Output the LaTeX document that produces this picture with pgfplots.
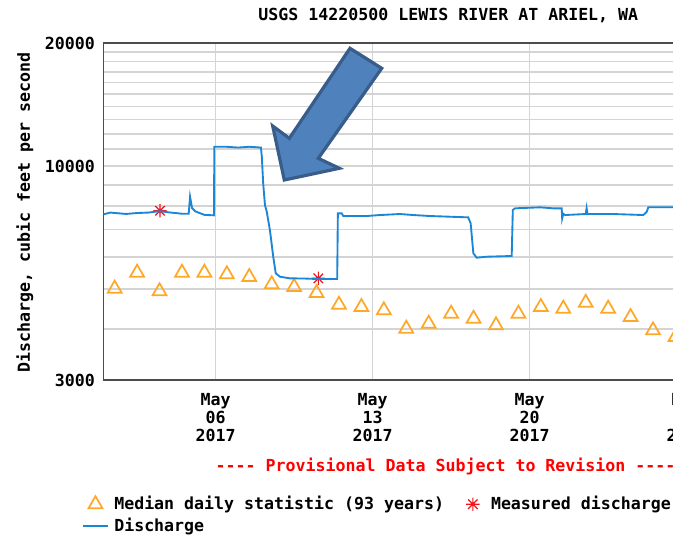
\documentclass[border=0pt]{standalone}
\usepackage{pgfplots}
\pgfplotsset{compat=1.18}
\usepackage{fontspec}
\setmainfont{DejaVu Sans Mono}[Ligatures=TeXOff]
\definecolor{qblue}{RGB}{28,134,214}
\definecolor{medorange}{RGB}{255,168,40}
\definecolor{measred}{RGB}{240,20,30}
\definecolor{gridc}{RGB}{212,212,212}
\definecolor{arrowfill}{RGB}{79,129,189}
\definecolor{arrowdraw}{RGB}{56,93,138}
\pgfdeclareplotmark{star8}{%
  \pgfpathmoveto{\pgfqpoint{0pt}{\pgfplotmarksize}}\pgfpathlineto{\pgfqpoint{0pt}{-\pgfplotmarksize}}%
  \pgfpathmoveto{\pgfqpoint{\pgfplotmarksize}{0pt}}\pgfpathlineto{\pgfqpoint{-\pgfplotmarksize}{0pt}}%
  \pgfpathmoveto{\pgfqpoint{.7071\pgfplotmarksize}{.7071\pgfplotmarksize}}\pgfpathlineto{\pgfqpoint{-.7071\pgfplotmarksize}{-.7071\pgfplotmarksize}}%
  \pgfpathmoveto{\pgfqpoint{.7071\pgfplotmarksize}{-.7071\pgfplotmarksize}}\pgfpathlineto{\pgfqpoint{-.7071\pgfplotmarksize}{.7071\pgfplotmarksize}}%
  \pgfusepathqstroke}
\begin{document}
\begin{tikzpicture}[font=\fontsize{12.45pt}{13.5pt}\selectfont\bfseries]
\useasboundingbox (0,0) rectangle (504.75pt,-404.25pt);
\clip (0,0) rectangle (504.75pt,-404.25pt);
\begin{axis}[
  at={(77.6pt,-285pt)}, anchor=south west,
  scale only axis, width=521.5pt, height=252.75pt,
  xmin=1, xmax=32,
  ymode=log, ymin=3000, ymax=20000,
  clip mode=individual,
  xtick={6,13,20,27},
  xticklabels={{May\\06\\2017},{May\\13\\2017},{May\\20\\2017},{May\\27\\2017}},
  ytick={3000,10000,20000},
  yticklabels={3000,10000,20000},
  minor ytick={4000,5000,6000,7000,8000,9000,11000,12000,13000,14000,15000,16000,17000,18000,19000},
  minor xtick={},
  grid=both,
  major grid style={draw=gridc, line width=1.2pt},
  minor grid style={draw=gridc, line width=1.2pt},
  axis line style={draw=black!70, line width=1.1pt},
  major tick length=0pt, minor tick length=0pt,
  xticklabel style={align=center, anchor=north, yshift=-6.5pt},
  yticklabel style={anchor=east, xshift=-3pt},
  ylabel={Discharge, cubic feet per second},
  ylabel style={at={(axis description cs:-0.1130,0.497)}, anchor=center},
  title={USGS 14220500 LEWIS RIVER AT ARIEL, WA},
  title style={at={(axis description cs:0.496,1.059)}, anchor=center},
  legend columns=2,
  legend cell align=left,
  legend style={at={(axis description cs:-0.037,-0.329)}, anchor=north west, draw=none, fill=none,
    /tikz/every even column/.append style={column sep=10pt},
    /tikz/every odd column/.append style={column sep=2pt},
    row sep=0.5pt},
  legend image code/.code={\path (0pt,0pt) (18.8pt,0pt); \draw[mark repeat=2,mark phase=2,#1] plot coordinates {(0pt,0pt) (9.4pt,0pt) (18.8pt,0pt)};},
]
\addplot[only marks, mark=triangle, mark size=6pt, mark options={draw=medorange, fill=none, line width=1.3pt}]
coordinates {
(1.5,5017) (2.5,5488) (3.5,4943) (4.5,5488) (5.5,5488) (6.5,5439) (7.5,5357)
(8.5,5141) (9.5,5064) (10.5,4896) (11.5,4584) (12.5,4525) (13.5,4442) (14.5,4004)
(15.5,4118) (16.5,4357) (17.5,4236) (18.5,4081) (19.5,4357) (20.5,4525) (21.5,4482)
(22.5,4634) (23.5,4482) (24.5,4277) (25.5,3968) (26.5,3821)
};
\addlegendentry{Median daily statistic (93 years)}
\addplot[only marks, mark=star8, mark size=5pt, mark options={draw=measred, line width=0.9pt}]
coordinates {(3.52,7781) (10.58,5317)};
\addlegendentry{Measured discharge}
\addplot[qblue, line width=1.4pt, mark=none]
coordinates {
(1.0,7620) (1.3,7700) (2.0,7640) (2.5,7680) (3.0,7700) (3.5,7760) (4.0,7700) (4.5,7650)
(4.80,7650) (4.86,8420) (4.95,7900) (5.1,7750) (5.5,7600) (5.93,7580)
(5.94,11150) (6.5,11150) (7.0,11100) (7.5,11150) (8.02,11100)
(8.06,10540) (8.12,9080) (8.20,8030) (8.28,7735) (8.42,6980) (8.57,6000) (8.68,5470)
(8.87,5365) (9.31,5317) (10.0,5310) (10.51,5297) (11.42,5297)
(11.45,7666) (11.62,7666) (11.69,7551) (12.73,7551) (13.33,7594) (14.22,7637)
(14.81,7594) (15.56,7551) (17.26,7495) (17.37,7248) (17.49,6121) (17.64,5972)
(18.08,6005) (19.20,6029) (19.25,7812) (19.35,7886) (20.46,7931) (21.05,7886)
(21.43,7886) (21.45,7450) (21.5,7650) (21.58,7594) (22.50,7637) (22.54,7900)
(22.58,7637) (23.14,7637) (23.73,7637) (25.07,7594) (25.22,7735) (25.29,7931)
(26.39,7931) (28.0,7931)
};
\addlegendentry{Discharge}
\node[text=red, anchor=center] at (axis description cs:0.492,-0.257)
  {---- Provisional Data Subject to Revision ----};
\end{axis}
\begin{scope}[x=0.75pt,y=-0.75pt]
\draw[fill=arrowfill, draw=arrowdraw, line width=2.4pt, line join=miter]
  (350,48.3) -- (381.7,68.3) -- (318.3,158.3) -- (339.3,168.3) -- (284.3,180)
  -- (272.7,126) -- (289.3,138.3) -- cycle;
\end{scope}
\end{tikzpicture}
\end{document}
